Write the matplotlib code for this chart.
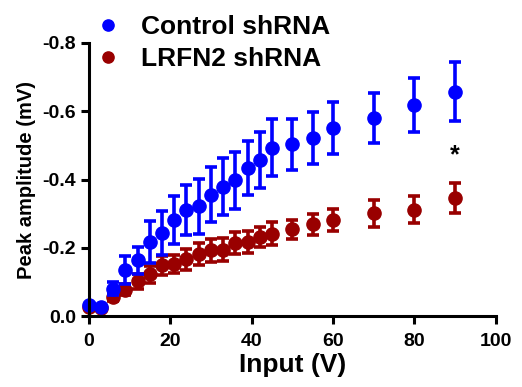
import matplotlib
matplotlib.use("Agg")
import matplotlib.pyplot as plt

plt.rcParams['font.family'] = ['Liberation Sans', 'DejaVu Sans']
plt.rcParams['font.weight'] = 'bold'

# input voltage steps (V)
volts = [0, 3, 6, 9, 12, 15, 18, 21, 24, 27, 30, 33, 36, 39, 42, 45, 50, 55, 60, 70, 80, 90]

# peak amplitude (mV), mean and SEM
ctrl_mean = [-0.032, -0.027, -0.081, -0.135, -0.164, -0.218, -0.244, -0.281, -0.312, -0.322,
             -0.356, -0.379, -0.398, -0.434, -0.457, -0.493, -0.503, -0.522, -0.551, -0.581,
             -0.618, -0.657]
ctrl_sem = [0.0, 0.0, 0.02, 0.04, 0.04, 0.062, 0.064, 0.07, 0.073, 0.08,
            0.08, 0.084, 0.084, 0.08, 0.083, 0.083, 0.075, 0.076, 0.077, 0.073,
            0.08, 0.086]

kd_mean = [-0.028, -0.025, -0.055, -0.078, -0.102, -0.123, -0.149, -0.152, -0.166, -0.182,
           -0.193, -0.195, -0.215, -0.218, -0.232, -0.242, -0.254, -0.269, -0.281, -0.301,
           -0.312, -0.346]
kd_sem = [0.0, 0.0, 0.01, 0.015, 0.022, 0.025, 0.027, 0.027, 0.03, 0.032,
          0.033, 0.033, 0.032, 0.032, 0.03, 0.034, 0.029, 0.03, 0.032, 0.039,
          0.04, 0.045]

blue = '#0000FF'
red = '#990000'

fig = plt.figure(figsize=(5.22, 3.87), dpi=100)
ax = fig.add_axes([0.170, 0.183, 0.780, 0.706])

eb = dict(fmt='none', elinewidth=2.6, capsize=4.5, capthick=2.6, clip_on=False)
ax.errorbar(volts, kd_mean, yerr=kd_sem, ecolor=red, **eb)
ax.plot(volts, kd_mean, 'o', color=red, ms=9.5, clip_on=False, label='LRFN2 shRNA')
ax.errorbar(volts, ctrl_mean, yerr=ctrl_sem, ecolor=blue, **eb)
ax.plot(volts, ctrl_mean, 'o', color=blue, ms=9.5, clip_on=False, label='Control shRNA')

ax.text(90, -0.47, '*', ha='center', va='center', fontsize=18, fontweight='bold')

ax.set_xlim(0, 100)
ax.set_ylim(0, -0.8)
ax.set_xticks([0, 20, 40, 60, 80, 100])
ax.set_yticks([0.0, -0.2, -0.4, -0.6, -0.8])
ax.set_yticklabels(['0.0', '-0.2', '-0.4', '-0.6', '-0.8'])

for s in ['top', 'right']:
    ax.spines[s].set_visible(False)
for s in ['left', 'bottom']:
    ax.spines[s].set_linewidth(2.2)
ax.tick_params(axis='both', width=2.2, length=6, labelsize=14)
ax.tick_params(axis='x', pad=6)
ax.tick_params(axis='y', pad=3)

ax.set_xlabel('Input (V)', fontsize=19, fontweight='bold', labelpad=2)
ax.set_ylabel('Peak amplitude (mV)', fontsize=14.5, fontweight='bold', labelpad=5)

h, l = ax.get_legend_handles_labels()
leg = fig.legend(h[::-1], l[::-1], loc='center left', bbox_to_anchor=(0.182, 0.888),
                 frameon=False, fontsize=19, handlelength=1.0, handletextpad=0.76,
                 labelspacing=0.3, borderpad=0, borderaxespad=0, markerscale=0.85)

fig.savefig('out.png', dpi=100)
